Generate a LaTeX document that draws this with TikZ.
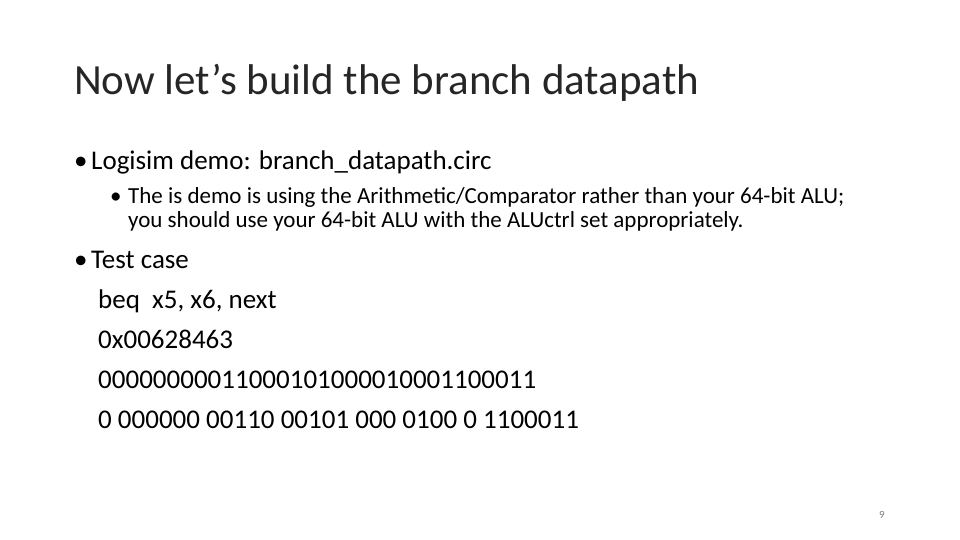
\documentclass[tikz,border=0pt]{standalone}
\usepackage{fontspec}
\setmainfont{Carlito}
\begin{document}
\begin{tikzpicture}[x=1pt,y=-1pt,txt/.style={anchor=base west,inner sep=0pt},
 big/.style={txt,font=\fontsize{27}{32}\selectfont},
 small/.style={txt,font=\fontsize{23}{28}\selectfont}]
\useasboundingbox (0,0) rectangle (960,540);
\node[txt,font=\fontsize{43}{52}\selectfont,text=black!85] (title) at (74,95) {Now let’s build the branch datapath};
\node[big] (d1) at (74,170) {•};
\node[big] (b1) at (91,170) {Logisim demo: branch\_datapath.circ};
\node[small] (d2) at (110,203) {•};
\node[small] (s1) at (128,203) {The is demo is using the Arithmetic/Comparator rather than your 64-bit ALU;};
\node[small] (s2) at (128,227) {you should use your 64-bit ALU with the ALUctrl set appropriately.};
\node[big] (d3) at (74,268) {•};
\node[big] (b2) at (91,268) {Test case};
\node[big] (l1) at (98,308) {beq\ \ x5, x6, next};
\node[big] (l2) at (98,348) {0x00628463};
\node[big] (l3) at (98,388) {00000000011000101000010001100011};
\node[big] (l4) at (98,428) {0 000000 00110 00101 000 0100 0 1100011};
\node[txt,font=\fontsize{11}{13}\selectfont,text=gray] (pg) at (879,518) {9};
\end{tikzpicture}
\end{document}
